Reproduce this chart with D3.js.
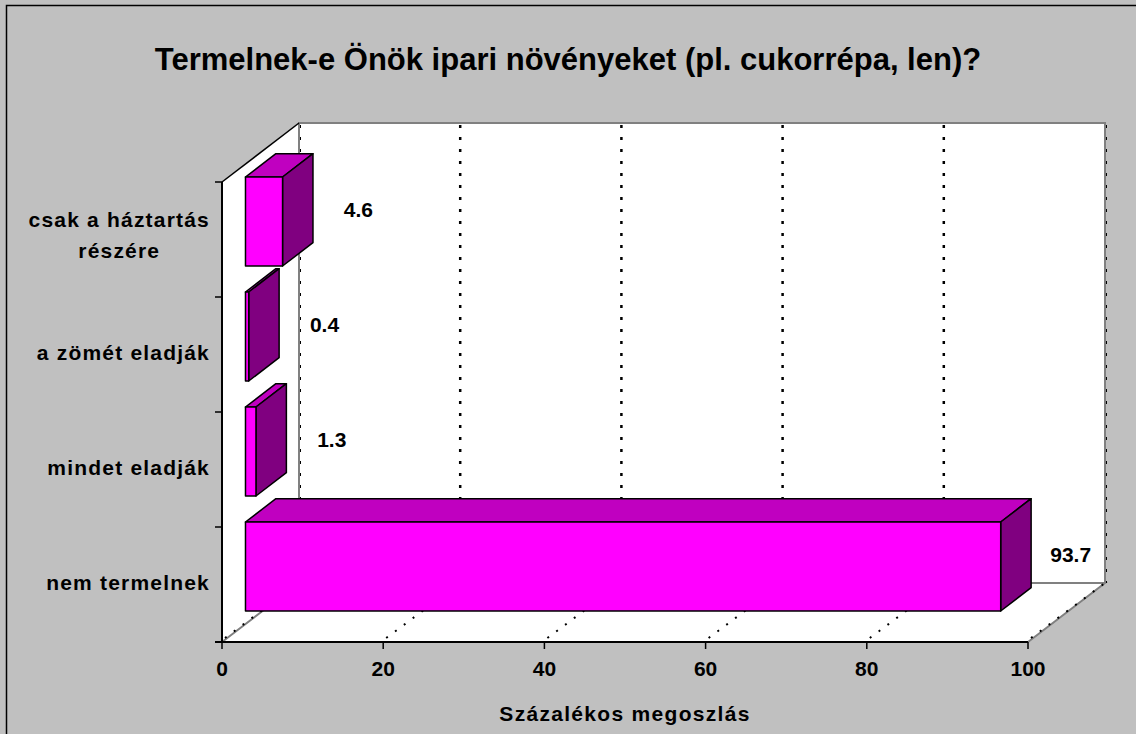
<!DOCTYPE html>
<html>
<head>
<meta charset="utf-8">
<script src="https://cdn.jsdelivr.net/npm/d3@7/dist/d3.min.js"></script>
<style>
  html, body { margin: 0; padding: 0; background: #c0c0c0; }
  svg { display: block; font-family: Arial, "Liberation Sans", sans-serif; font-weight: bold; }
</style>
</head>
<body>
<div id="chart"></div>
<script>
// Data
const categories = ["csak a háztartás\nrészére", "a zömét eladják", "mindet eladják", "nem termelnek"];
const values = [4.6, 0.4, 1.3, 93.7];
const xTicks = [0, 20, 40, 60, 80, 100];
const title = "Termelnek-e Önök ipari növényeket (pl. cukorrépa, len)?";
const xTitle = "Százalékos megoszlás";

const W = 1136, H = 734;
// depth vector of the 3D box
const DX = 77, DY = -59;
const z1 = 0.305, z2 = 0.70;

const svg = d3.select("#chart").append("svg")
    .attr("width", W)
    .attr("height", H);

svg.append("rect")
    .attr("x", 6.5).attr("y", 5.5)
    .attr("width", W + 20).attr("height", H + 20)
    .attr("fill", "#c0c0c0")
    .attr("stroke", "#000").attr("stroke-width", 1.5);

const x = d3.scaleLinear().domain([0, 100]).range([222, 1028]);
const y = d3.scaleBand().domain(categories).range([182, 642])
    .paddingInner(0.226).paddingOuter(0.113);

const x0 = x.range()[0], x1 = x.range()[1];
const y0 = y.range()[0], y1 = y.range()[1];

// walls
svg.append("polygon")
    .attr("points", [[x0 + DX, y0 + DY], [x1 + DX, y0 + DY], [x1 + DX, y1 + DY], [x0 + DX, y1 + DY]].join(" "))
    .attr("fill", "#fff");
svg.append("polygon")
    .attr("points", [[x0, y1], [x1, y1], [x1 + DX, y1 + DY], [x0 + DX, y1 + DY]].join(" "))
    .attr("fill", "#fff");
svg.append("polygon")
    .attr("points", [[x0, y0], [x0 + DX, y0 + DY], [x0 + DX, y1 + DY], [x0, y1]].join(" "))
    .attr("fill", "#fff");

// gray wall edges
const gray = svg.append("g").attr("stroke", "#808080").attr("stroke-width", 2).attr("fill", "none");
gray.append("polyline")
    .attr("points", [[x0 + DX, y1 + DY], [x0 + DX, y0 + DY], [x1 + DX, y0 + DY], [x1 + DX, y1 + DY]].join(" "));
gray.append("polyline")
    .attr("points", [[x0, y1], [x0 + DX, y1 + DY], [x1 + DX, y1 + DY], [x1, y1]].join(" "));

// back wall gridlines
svg.append("g").selectAll("line")
    .data(xTicks)
    .join("line")
    .attr("x1", d => x(d) + DX + (d === 0 || d === 100 ? 1.5 : 0))
    .attr("x2", d => x(d) + DX + (d === 0 || d === 100 ? 1.5 : 0))
    .attr("y1", y0 + DY + 2)
    .attr("y2", y1 + DY)
    .attr("stroke", "#000")
    .attr("stroke-width", d => (d === 0 || d === 100) ? 1 : 2.5)
    .attr("stroke-dasharray", "3,9");

// floor gridlines
svg.append("g").selectAll("line")
    .data(xTicks)
    .join("line")
    .attr("x1", d => x(d) + 3)
    .attr("y1", y1 - 4)
    .attr("x2", d => x(d) + DX)
    .attr("y2", y1 + DY)
    .attr("stroke", "#000")
    .attr("stroke-width", 2)
    .attr("stroke-dasharray", "2,9");

// side wall top edge
svg.append("line")
    .attr("x1", x0).attr("y1", y0)
    .attr("x2", x0 + DX).attr("y2", y0 + DY)
    .attr("stroke", "#000").attr("stroke-width", 1.5);

// bars
const bars = categories.map((c, i) => ({cat: c, value: values[i]}));
const fx = z1 * DX, fy = z1 * DY, bx = z2 * DX, by = z2 * DY;

const barG = svg.append("g").selectAll("g")
    .data(bars)
    .join("g")
    .attr("stroke", "#000")
    .attr("stroke-width", 1.5)
    .attr("stroke-linejoin", "round");

barG.append("polygon")
    .attr("fill", "#c000c0")
    .attr("points", d => {
        const a = x(0), b = x(d.value), t = y(d.cat);
        return [[a + fx, t + fy], [b + fx, t + fy], [b + bx, t + by], [a + bx, t + by]].join(" ");
    });
barG.append("polygon")
    .attr("fill", "#800080")
    .attr("points", d => {
        const b = x(d.value), t = y(d.cat), u = t + y.bandwidth();
        return [[b + fx, t + fy], [b + bx, t + by], [b + bx, u + by], [b + fx, u + fy]].join(" ");
    });
barG.append("rect")
    .attr("fill", "#ff00ff")
    .attr("x", d => x(0) + fx)
    .attr("y", d => y(d.cat) + fy)
    .attr("width", d => x(d.value) - x(0))
    .attr("height", y.bandwidth());

// data labels
svg.append("g").selectAll("text")
    .data(bars)
    .join("text")
    .attr("x", d => x(d.value) + bx + 60)
    .attr("y", d => y(d.cat) + y.bandwidth() / 2 - 23)
    .attr("text-anchor", "end")
    .attr("font-size", 21)
    .text(d => d.value.toFixed(1));

// axes lines
svg.append("line")
    .attr("x1", x0).attr("x2", x0).attr("y1", y0).attr("y2", y1)
    .attr("stroke", "#000").attr("stroke-width", 2);
svg.append("line")
    .attr("x1", x0 - 7).attr("x2", x1).attr("y1", y1).attr("y2", y1)
    .attr("stroke", "#000").attr("stroke-width", 2);

// y ticks at band boundaries
const yBounds = d3.range(categories.length + 1).map(i => y0 + i * y.step());
svg.append("g").selectAll("line")
    .data(yBounds)
    .join("line")
    .attr("x1", x0 - 7).attr("x2", x0)
    .attr("y1", d => d).attr("y2", d => d)
    .attr("stroke", "#000").attr("stroke-width", 1.5);

// x ticks
svg.append("g").selectAll("line")
    .data(xTicks)
    .join("line")
    .attr("x1", d => x(d)).attr("x2", d => x(d))
    .attr("y1", y1).attr("y2", y1 + 7)
    .attr("stroke", "#000").attr("stroke-width", 1.5);

svg.append("g").selectAll("text")
    .data(xTicks)
    .join("text")
    .attr("x", d => x(d))
    .attr("y", 676)
    .attr("text-anchor", "middle")
    .attr("font-size", 21)
    .text(d => d);

// category labels
const catLabels = svg.append("g").selectAll("text")
    .data(categories)
    .join("text")
    .attr("font-size", 21)
    .attr("letter-spacing", 1.2)
    .attr("text-anchor", "middle");

catLabels.each(function(d) {
    const lines = d.split("\n");
    const t = d3.select(this);
    const cy = y(d) + y.bandwidth() / 2;
    const off = lines.length > 1 ? 3 : 5.5;
    const spans = lines.map((ln, i) => t.append("tspan")
        .attr("y", cy + off + (i - (lines.length - 1) / 2) * 31)
        .text(ln));
    const maxW = d3.max(spans, s => s.node().getComputedTextLength());
    spans.forEach(s => s.attr("x", 210 - maxW / 2));
});

// titles
svg.append("text")
    .attr("x", W / 2)
    .attr("y", 70)
    .attr("text-anchor", "middle")
    .attr("font-size", 31)
    .text(title);

svg.append("text")
    .attr("x", (x0 + x1) / 2)
    .attr("y", 721)
    .attr("text-anchor", "middle")
    .attr("font-size", 21)
    .attr("letter-spacing", 1.3)
    .text(xTitle);
</script>
</body>
</html>
